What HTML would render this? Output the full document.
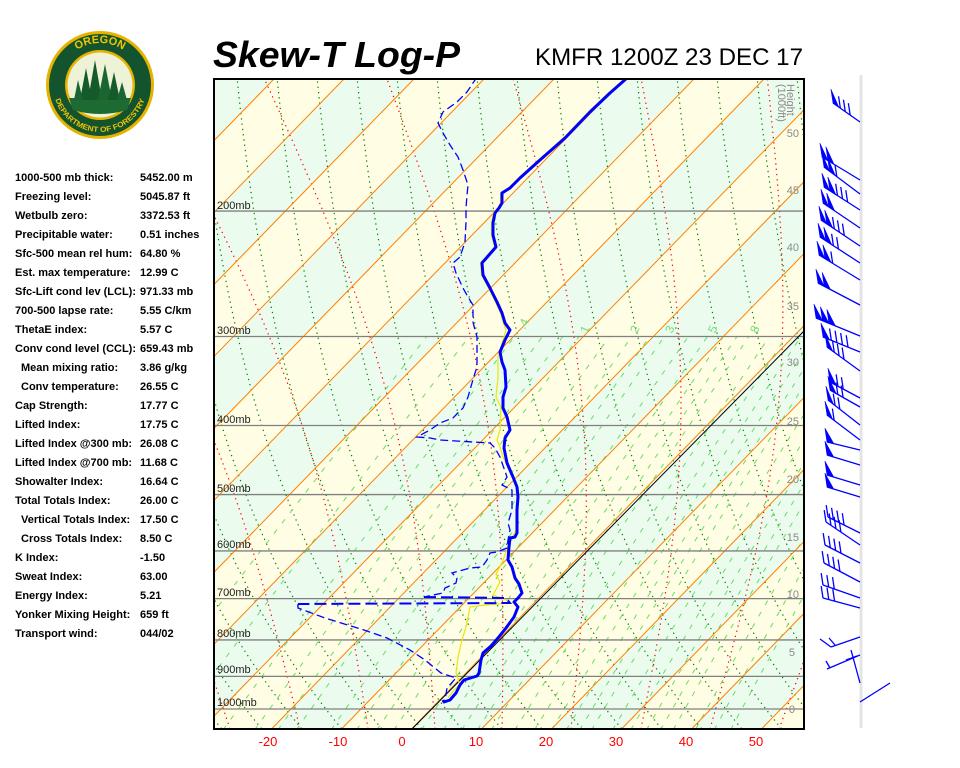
<!DOCTYPE html>
<html><head><meta charset="utf-8">
<style>
html,body{margin:0;padding:0;background:#fff;}
svg{display:block;font-family:"Liberation Sans",Arial,sans-serif;}
.lt{font-size:11px;font-weight:bold;fill:#000;}
.pl{font-size:11px;fill:#222;}
.hl{font-size:11px;fill:#8a8a8a;}
.tl{font-size:13px;fill:#ff0000;}
.mr{font-size:12px;fill:#77dd77;}
</style></head>
<body>
<svg id="s" width="960" height="768" viewBox="0 0 960 768" xmlns="http://www.w3.org/2000/svg">
<defs><clipPath id="c"><rect x="214" y="79" width="590" height="650"/></clipPath>
<path id="arcT" d="M58,85 A42,42 0 0 1 142,85"/>
<path id="arcB" d="M53,85 A47,47 0 0 0 147,85"/>
</defs>
<rect width="960" height="768" fill="#fff"/>
<!-- logo -->
<g>
<circle cx="100" cy="85" r="54" fill="#e6b400"/>
<circle cx="100" cy="85" r="51" fill="#13532e"/>
<circle cx="100" cy="85" r="35" fill="#e6b400"/>
<circle cx="100" cy="85" r="32.5" fill="#eef3d8"/>
<path d="M69,98 L131,98 L127,110 Q100,118 73,110 Z" fill="#1d6b33"/>
<polygon points="80,100 86,68 92,100" fill="#155a2a"/>
<polygon points="88,100 95,60 102,100" fill="#155a2a"/>
<polygon points="98,100 105,64 112,100" fill="#1b6530"/>
<polygon points="108,100 114,72 120,100" fill="#155a2a"/>
<polygon points="74,100 78,80 83,100" fill="#1b6530"/>
<polygon points="117,100 122,82 127,100" fill="#1b6530"/>
<text font-size="11" font-weight="bold" fill="#f0c400"><textPath href="#arcT" startOffset="50%" text-anchor="middle">OREGON</textPath></text>
<text font-size="7.5" font-weight="bold" fill="#f0c400"><textPath href="#arcB" startOffset="50%" text-anchor="middle" textLength="118" lengthAdjust="spacingAndGlyphs">DEPARTMENT OF FORESTRY</textPath></text>
</g>
<!-- title -->
<text x="213" y="67" font-size="36" font-weight="bold" font-style="italic" textLength="247" lengthAdjust="spacingAndGlyphs">Skew-T Log-P</text>
<text x="535" y="65" font-size="24" textLength="268" lengthAdjust="spacingAndGlyphs">KMFR 1200Z 23 DEC 17</text>
<!-- chart layers -->
<g id="bg" clip-path="url(#c)"></g>
<g id="ln" clip-path="url(#c)"></g>
<g clip-path="url(#c)">
<polyline fill="none" stroke="#e8e800" stroke-width="1.2" points="625.5,78 608.5,93 588.5,112 563.5,138 538.5,160 518.5,178 508.5,188 500.5,193 500.5,203 497.5,208 493.5,213 491.5,223 491.5,235 494.5,247 480.5,263 481.5,275 488.5,288 495.5,302 500.5,313 503.5,323 506,330 498,357 498,377 496,397 501,407 500,430 497,440 500,447 503,457 508,467 513,477 516,487 517,497 516,510 516,530 513,537 508,547 502,563 496,574 500,582 493,595 506,600 510,603 485,605 470,607 466,627 462,640 458,657 456,673 460,685 454,690 448,698"/>
<polyline fill="none" stroke="#0000ff" stroke-width="1.3" stroke-dasharray="8,4" points="477,77 467,92 457,102 443,112 438,123 443,133 450,145 458,157 463,170 468,185 467,195 466,208 466,222 465,242 460,257 453,263 456,273 463,288 468,297 473,305 473,322 475,330 477,337 477,367 475,373 472,383 468,397 463,408 453,418 440,423 430,430 417,437 430,438 440,440 490,443 495,448 500,457 507,477 502,485 512,490 512,510 508,523 510,530 508,540 507,548 497,552 490,553 487,560 482,567 470,568 452,573 457,578 456,583 445,588 443,593 424,597"/>
<polyline fill="none" stroke="#0000ff" stroke-width="2" stroke-dasharray="12,5" points="424,597 506,598 510,603 298,604"/>
<polyline fill="none" stroke="#0000ff" stroke-width="1.3" stroke-dasharray="8,4" points="298,604 298,608 325,618 364,630 387,638 410,650 425,660 441,673 456,678 447,688 445,700"/>
<polyline fill="none" stroke="#0000ff" stroke-width="3" stroke-linejoin="round" points="627,78 610,93 590,112 565,138 540,160 520,178 510,188 502,193 502,203 499,208 495,213 493,223 493,235 496,247 482,263 483,275 490,288 497,302 502,313 505,323 510,330 505,340 500,352 502,362 505,370 506,387 503,397 503,408 507,417 510,430 505,438 504,448 507,463 513,477 517,487 518,497 517,510 517,533 515,537 510,538 509,547 508,560 512,567 515,578 519,584 522,593 518,598 514,602 518,607 514,617 506,628 498,638 491,646 483,653 481,660 479,673 477,676 464,680 460,685 456,693 450,700 444,702 443,700"/>
</g>
<rect x="214" y="79" width="590" height="650" fill="none" stroke="#000" stroke-width="2"/>
<!-- pressure labels -->
<text class="pl" x="217" y="209">200mb</text>
<text class="pl" x="217" y="334">300mb</text>
<text class="pl" x="217" y="423">400mb</text>
<text class="pl" x="217" y="492">500mb</text>
<text class="pl" x="217" y="548">600mb</text>
<text class="pl" x="217" y="596">700mb</text>
<text class="pl" x="217" y="637">800mb</text>
<text class="pl" x="217" y="673">900mb</text>
<text class="pl" x="217" y="706">1000mb</text>
<!-- height labels -->
<text class="hl" x="787" y="84" transform="rotate(90 787 84)" font-size="10">Height</text>
<text class="hl" x="778" y="84" transform="rotate(90 778 84)" font-size="10">(1000ft)</text>
<g text-anchor="end">
<text class="hl" x="799" y="137">50</text><text class="hl" x="799" y="194">45</text>
<text class="hl" x="799" y="251">40</text><text class="hl" x="799" y="310">35</text>
<text class="hl" x="799" y="366">30</text><text class="hl" x="799" y="425">25</text>
<text class="hl" x="799" y="483">20</text><text class="hl" x="799" y="541">15</text>
<text class="hl" x="799" y="598">10</text><text class="hl" x="795" y="656">5</text>
<text class="hl" x="795" y="713">0</text>
</g>
<!-- mixing ratio labels -->
<text class="mr" transform="translate(525,330) rotate(-65)">.4</text>
<text class="mr" transform="translate(587,334) rotate(-65)">1</text>
<text class="mr" transform="translate(637,334) rotate(-65)">2</text>
<text class="mr" transform="translate(672,334) rotate(-65)">3</text>
<text class="mr" transform="translate(715,334) rotate(-65)">5</text>
<text class="mr" transform="translate(757,334) rotate(-65)">8</text>
<!-- bottom temps -->
<g text-anchor="middle">
<text class="tl" x="268" y="746">-20</text><text class="tl" x="338" y="746">-10</text>
<text class="tl" x="402" y="746">0</text><text class="tl" x="476" y="746">10</text>
<text class="tl" x="546" y="746">20</text><text class="tl" x="616" y="746">30</text>
<text class="tl" x="686" y="746">40</text><text class="tl" x="756" y="746">50</text>
</g>
<!-- left stats -->
<g class="lt">
<text x="15" y="181">1000-500 mb thick:</text><text x="140" y="181">5452.00 m</text>
<text x="15" y="200">Freezing level:</text><text x="140" y="200">5045.87 ft</text>
<text x="15" y="219">Wetbulb zero:</text><text x="140" y="219">3372.53 ft</text>
<text x="15" y="238">Precipitable water:</text><text x="140" y="238">0.51 inches</text>
<text x="15" y="257">Sfc-500 mean rel hum:</text><text x="140" y="257">64.80 %</text>
<text x="15" y="276">Est. max temperature:</text><text x="140" y="276">12.99 C</text>
<text x="15" y="295">Sfc-Lift cond lev (LCL):</text><text x="140" y="295">971.33 mb</text>
<text x="15" y="314">700-500 lapse rate:</text><text x="140" y="314">5.55 C/km</text>
<text x="15" y="333">ThetaE index:</text><text x="140" y="333">5.57 C</text>
<text x="15" y="352">Conv cond level (CCL):</text><text x="140" y="352">659.43 mb</text>
<text x="21" y="371">Mean mixing ratio:</text><text x="140" y="371">3.86 g/kg</text>
<text x="21" y="390">Conv temperature:</text><text x="140" y="390">26.55 C</text>
<text x="15" y="409">Cap Strength:</text><text x="140" y="409">17.77 C</text>
<text x="15" y="428">Lifted Index:</text><text x="140" y="428">17.75 C</text>
<text x="15" y="447">Lifted Index @300 mb:</text><text x="140" y="447">26.08 C</text>
<text x="15" y="466">Lifted Index @700 mb:</text><text x="140" y="466">11.68 C</text>
<text x="15" y="485">Showalter Index:</text><text x="140" y="485">16.64 C</text>
<text x="15" y="504">Total Totals Index:</text><text x="140" y="504">26.00 C</text>
<text x="21" y="523">Vertical Totals Index:</text><text x="140" y="523">17.50 C</text>
<text x="21" y="542">Cross Totals Index:</text><text x="140" y="542">8.50 C</text>
<text x="15" y="561">K Index:</text><text x="140" y="561">-1.50</text>
<text x="15" y="580">Sweat Index:</text><text x="140" y="580">63.00</text>
<text x="15" y="599">Energy Index:</text><text x="140" y="599">5.21</text>
<text x="15" y="618">Yonker Mixing Height:</text><text x="140" y="618">659 ft</text>
<text x="15" y="637">Transport wind:</text><text x="140" y="637">044/02</text>
</g>
<!-- wind area -->
<line x1="861" y1="75" x2="861" y2="728" stroke="#e4e4e4" stroke-width="3"/>
<g id="wb" stroke="#0000ff" fill="#0000ff" stroke-width="1.3"></g>
</svg>
<script>
(function(){
var NS="http://www.w3.org/2000/svg";
function el(par,tag,a){var e=document.createElementNS(NS,tag);for(var k in a)e.setAttribute(k,a[k]);document.getElementById(par).appendChild(e);return e;}
function Y(p){return 709-309.4*Math.log(1000/p);}
function X(T,y){return 411.5+7*T+0.973*(729-y);}
el('bg','rect',{x:214,y:79,width:590,height:650,fill:'#fffde3'});
for(var T=-200;T<=100;T+=20){
 var pts=[X(T,78)+',78',X(T+10,78)+',78',X(T+10,729)+',729',X(T,729)+',729'].join(' ');
 el('bg','polygon',{points:pts,fill:'#ebfcee'});
}
for(var k=-14;k<16;k++){
 var x0=237+40*k,a=[];
 for(var p=125;p<=1075;p+=15){var y=Y(p);a.push((x0+0.24*(p-130)).toFixed(1)+','+y.toFixed(1));}
 el('ln','polyline',{points:a.join(' '),fill:'none',stroke:'#008000','stroke-width':1.2,'stroke-dasharray':'1.3,4'});
}
var bx=[160,230,300,368,435,502,571,641,710,779,848];
bx.forEach(function(b){
 var t=641+1.83*(b-641),a=[];
 for(var y=729;y>=76;y-=10){var s=(729-y)/651;a.push((b+(t-b)*s+40*Math.sin(Math.PI*s)).toFixed(1)+','+y);}
 el('ln','polyline',{points:a.join(' '),fill:'none',stroke:'#ff0000','stroke-width':1.2,'stroke-dasharray':'1.3,4'});
});
[0.1,0.2,0.4,0.6,0.8,1,1.5,2,2.5,3,4,5,6,7,8,10,12,14,16,18,20,24,28,32,36,40,48,56,64].forEach(function(w){
 var a=[];
 for(var p=1070;p>=300;p-=10){var e=w*p/(622+w),l=Math.log(e/6.112),Td=243.5*l/(17.67-l),y=Y(p);a.push(X(Td,y).toFixed(1)+','+y.toFixed(1));}
 el('ln','polyline',{points:a.join(' '),fill:'none',stroke:'#66dd66','stroke-width':1,'stroke-dasharray':'5,8'});
});
for(var T=-200;T<=100;T+=10){
 el('ln','line',{x1:X(T,78),y1:78,x2:X(T,729),y2:729,stroke:'#ff8000','stroke-width':1});
}
[200,300,400,500,600,700,800,900,1000].forEach(function(p){var y=Y(p);el('ln','line',{x1:214,x2:804,y1:y,y2:y,stroke:'#808080','stroke-width':1.3});});
el('ln','line',{x1:412,y1:729,x2:805,y2:330,stroke:'#000','stroke-width':1});
var B=[[122,-27,-19,1,3],[180,-38,-23,2,0],[194,-36,-27,2,1],[210,-36,-23,2,3],[228,-37,-25,2,0],[246,-39,-26,2,3],[263,-40,-26,2,2],[280,-41,-25,2,1],[305,-42,-22,2,0],[336,-44,-18,3,0],[352,-37,-15,1,4],[371,-33,-24,1,3],[398,-30,-16,1,2],[407,-30,-17,1,2],[425,-32,-25,1,2],[440,-33,-25,1,1],[450,-33,-8,1,0],[465,-33,-10,1,0],[485,-33,-10,1,0],[497,-33,-10,1,0],[533,-32,-16,0,4],[545,-34,-23,0,4],[563,-35,-18,0,4],[582,-36,-19,0,4],[598,-37,-13,0,3],[608,-37,-10,0,3]];
var nx=-0.15,ny=-0.99;
B.forEach(function(r){
 var x1=860,y1=r[0],tx=x1+r[1],ty=y1+r[2],L=Math.sqrt(r[1]*r[1]+r[2]*r[2]),ux=-r[1]/L,uy=-r[2]/L;
 el('wb','line',{x1:x1,y1:y1,x2:tx,y2:ty});
 var s=0;
 for(var i=0;i<r[3];i++){var ax=tx+ux*s,ay=ty+uy*s,bx2=tx+ux*(s+7),by=ty+uy*(s+7);
  el('wb','polygon',{points:ax+','+ay+' '+bx2+','+by+' '+(ax+nx*14)+','+(ay+ny*14),'stroke-width':0.6});s+=7;}
 if(r[3])s+=2;
 for(var j=0;j<r[4];j++){var cx=tx+ux*s,cy=ty+uy*s;el('wb','line',{x1:cx,y1:cy,x2:cx+nx*12,y2:cy+ny*12});s+=6;}
});
[[860,637,831,647],[831,647,820,639],[835,645,829,638],[860,655,827,669],[830,668,826,661],[851,650,860,683],[846,660,857,656],[860,702,890,683]].forEach(function(l){el('wb','line',{x1:l[0],y1:l[1],x2:l[2],y2:l[3]});});
})();
</script>
</body></html>
